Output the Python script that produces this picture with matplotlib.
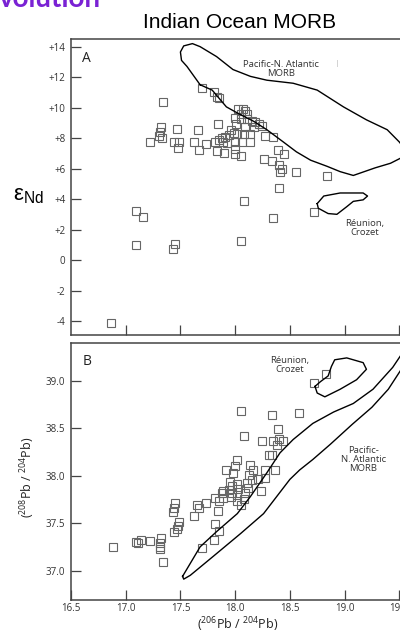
import matplotlib
matplotlib.use("Agg")
import matplotlib.pyplot as plt

plt.rcParams['font.family'] = ['Open Sans', 'DejaVu Sans']
plt.rcParams['mathtext.default'] = 'regular'

# panel A: 206Pb/204Pb vs eNd, Indian Ocean MORB samples
a_pb206 = [17.70, 17.81, 17.83, 17.85, 17.34, 18.03, 18.07, 18.09, 18.05, 18.11,
           18.00, 18.05, 18.11, 18.15, 18.18, 18.22, 17.84, 18.01, 18.09, 18.17,
           18.25, 17.32, 17.47, 17.66, 17.31, 17.30, 17.33, 17.96, 17.99, 18.02,
           18.08, 18.14, 17.94, 17.91, 17.88, 17.85, 18.27, 18.35, 17.22, 17.44,
           17.49, 17.48, 17.62, 17.73, 17.67, 17.82, 17.89, 17.93, 18.00, 18.06,
           18.14, 17.83, 17.90, 18.00, 18.00, 18.05, 18.39, 18.45, 18.26, 18.34,
           18.40, 18.43, 18.41, 18.56, 18.84, 18.40, 18.08, 18.35, 18.72, 18.05,
           17.09, 17.16, 17.09, 17.45, 17.43, 16.87]
a_end = [11.3, 11.0, 10.7, 10.6, 10.35, 9.9, 9.9, 9.8, 9.6, 9.6,
         9.3, 9.25, 9.25, 9.15, 9.05, 8.95, 8.95, 8.9, 8.75, 8.75,
         8.8, 8.7, 8.6, 8.5, 8.4, 8.15, 8.0, 8.5, 8.35, 8.25,
         8.25, 8.25, 8.2, 8.1, 8.0, 7.85, 8.15, 8.05, 7.75, 7.75,
         7.75, 7.35, 7.75, 7.6, 7.2, 7.75, 7.75, 7.65, 7.75, 7.75,
         7.75, 7.15, 7.05, 7.3, 6.95, 6.8, 7.2, 6.95, 6.65, 6.5,
         6.25, 6.0, 5.75, 5.8, 5.5, 4.7, 3.9, 2.75, 3.15, 1.25,
         3.25, 2.8, 1.0, 1.05, 0.75, -4.1]

# field outlines, panel A
a_pac_x = [17.68, 17.65, 17.56, 17.51, 17.50, 17.53, 17.61, 17.68, 17.83, 17.98,
           18.14, 18.29, 18.53, 18.75, 18.99, 19.20, 19.39, 19.50, 19.56, 19.53,
           19.42, 19.28, 19.08, 18.96, 18.84, 18.69, 18.56, 18.44, 18.29, 18.17,
           18.02, 17.92, 17.79, 17.68]
a_pac_y = [11.5, 11.8, 12.7, 13.1, 13.65, 14.05, 14.2, 14.0, 13.35, 12.5,
           12.05, 11.8, 11.6, 11.15, 10.05, 9.2, 8.55, 7.75, 7.2, 6.75,
           6.35, 6.05, 5.55, 5.8, 6.15, 6.55, 7.1, 7.75, 8.55, 9.1,
           9.65, 10.05, 11.15, 11.5]
a_reu_x = [18.75, 18.81, 18.96, 19.17, 19.21, 19.17, 19.08, 19.02, 18.93, 18.85, 18.76, 18.75]
a_reu_y = [3.7, 4.2, 4.4, 4.4, 4.2, 3.95, 3.85, 3.5, 3.0, 3.05, 3.4, 3.7]

# panel B: 206Pb/204Pb vs 208Pb/204Pb
b_pb206 = [18.72, 18.83, 18.05, 18.34, 18.58, 18.39, 18.08, 18.25, 18.35, 18.40,
           18.44, 18.38, 18.34, 18.31, 18.02, 18.00, 17.92, 17.98, 18.14, 18.16,
           18.27, 18.36, 18.13, 18.27, 18.21, 18.15, 18.11, 17.95, 18.02, 17.97,
           18.12, 18.03, 17.94, 17.89, 17.88, 17.97, 18.02, 18.09, 18.24, 17.82,
           17.89, 17.96, 18.02, 18.08, 17.85, 18.05, 17.84, 17.73, 17.65, 17.67,
           17.62, 17.45, 17.44, 17.43, 17.49, 17.48, 17.47, 17.44, 17.82, 17.85,
           17.81, 17.70, 16.88, 17.09, 17.11, 17.14, 17.22, 17.32, 17.31, 17.31,
           17.31, 17.34]
b_pb208 = [38.98, 39.07, 38.68, 38.64, 38.66, 38.49, 38.42, 38.37, 38.37, 38.39,
           38.37, 38.32, 38.22, 38.22, 38.16, 38.10, 38.06, 38.03, 38.11, 38.06,
           38.06, 38.06, 38.01, 37.98, 37.96, 37.95, 37.92, 37.93, 37.91, 37.89,
           37.87, 37.86, 37.85, 37.84, 37.82, 37.82, 37.80, 37.82, 37.84, 37.76,
           37.76, 37.77, 37.73, 37.75, 37.73, 37.69, 37.63, 37.71, 37.69, 37.66,
           37.57, 37.71, 37.66, 37.62, 37.51, 37.47, 37.44, 37.41, 37.49, 37.42,
           37.32, 37.24, 37.25, 37.30, 37.29, 37.32, 37.31, 37.34, 37.29, 37.25,
           37.23, 37.09]

b_pac_x = [17.52, 17.68, 17.83, 18.02, 18.14, 18.29, 18.41, 18.53, 18.71, 18.90,
           19.08, 19.26, 19.44, 19.58, 19.60, 19.53, 19.40, 19.25, 19.07, 18.87,
           18.71, 18.59, 18.50, 18.38, 18.26, 18.05, 17.80, 17.59, 17.53, 17.52]
b_pac_y = [36.94, 37.25, 37.41, 37.60, 37.78, 38.03, 38.24, 38.38, 38.55, 38.67,
           38.76, 38.91, 39.14, 39.38, 39.38, 39.14, 38.91, 38.72, 38.54, 38.33,
           38.17, 38.06, 37.96, 37.78, 37.60, 37.39, 37.15, 36.95, 36.91, 36.94]
b_reu_x = [18.73, 18.75, 18.82, 18.96, 19.11, 19.20, 19.17, 19.02, 18.91, 18.88, 18.85, 18.78, 18.73]
b_reu_y = [38.94, 38.87, 38.83, 38.91, 39.01, 39.12, 39.19, 39.24, 39.22, 39.15, 39.05, 38.99, 38.94]

a_yticks = [-4, -2, 0, 2, 4, 6, 8, 10, 12, 14]
a_ylabels = ['-4', '-2', '0', '+2', '+4', '+6', '+8', '+10', '+12', '+14']
xticks = [17.0, 17.5, 18.0, 18.5, 19.0, 19.5]
b_xlabels = ['16.5', '17.0', '17.5', '18.0', '18.5', '19.0', '19.5']
b_yticks = [37.0, 37.5, 38.0, 38.5, 39.0]

fig = plt.figure(figsize=(4.0, 6.33), dpi=100)

# axes run past the right edge of the canvas, like the cropped slide
axA = fig.add_axes([0.1775, 0.4712, 0.848, 0.4664])
axB = fig.add_axes([0.1775, 0.0521, 0.848, 0.4065])

sq = dict(linestyle='none', marker='s', markersize=6.3, markerfacecolor='none',
          markeredgecolor='#666666', markeredgewidth=0.8)
axA.plot(a_pb206, a_end, **sq)
axA.plot(a_pac_x, a_pac_y, color='black', lw=1.0)
axA.plot(a_reu_x, a_reu_y, color='black', lw=1.0)
axB.plot(b_pb206, b_pb208, **sq)
axB.plot(b_pac_x, b_pac_y, color='black', lw=1.0)
axB.plot(b_reu_x, b_reu_y, color='black', lw=1.0)

for ax in (axA, axB):
    ax.set_xlim(16.5, 19.6)
    for s in ax.spines.values():
        s.set_color('#444444')
        s.set_linewidth(1.1)
    ax.tick_params(direction='in', length=7.5, width=0.9, color='#444444',
                   labelsize=7, labelcolor='#333333', pad=4)

axA.set_ylim(-4.9, 14.47)
axA.set_yticks(a_yticks)
axA.set_yticklabels(a_ylabels)
axA.set_xticks(xticks)
axA.set_xticklabels([])

axB.set_ylim(36.69, 39.40)
axB.set_yticks(b_yticks)
axB.set_yticklabels(['%.1f' % v for v in b_yticks])
axB.set_xticks([16.5] + xticks)
axB.set_xticklabels(b_xlabels)
axB.tick_params(axis='x', pad=2.5)

lab = dict(fontsize=6.8, color='#333333', ha='center', va='center', linespacing=1.0)
axA.text(18.42, 12.52, 'Pacific-N. Atlantic\nMORB', **lab)
axA.text(18.93, 12.92, '|', fontsize=6, color='#bbbbbb', ha='center', va='center')
axA.text(19.18, 2.1, 'Réunion,\nCrozet', **lab)
axA.text(16.64, 13.2, 'A', fontsize=10, color='#222222', ha='center', va='center')

axB.text(18.50, 39.17, 'Réunion,\nCrozet', **lab)
axB.text(19.17, 38.17, 'Pacific-\nN. Atlantic\nMORB', **lab)
axB.text(16.65, 39.2, 'B', fontsize=10, color='#222222', ha='center', va='center')

fig.text(240 / 400, 1 - 23 / 633, 'Indian Ocean MORB', fontsize=15,
         family='Liberation Sans', ha='center', va='center')
fig.text(-0.004, 1 - 7 / 633, 'volution', fontsize=20, fontweight='bold',
         family='Lato', color='#7a22d4', ha='left', va='baseline')
fig.text(28 / 400, 1 - 196 / 633, 'ε$_{Nd}$', fontsize=16,
         family='Liberation Sans', ha='center', va='center')
fig.text(28 / 400, 1 - 477 / 633, '($^{208}$Pb / $^{204}$Pb)', fontsize=9,
         color='#222222', rotation=90, ha='center', va='center')
fig.text(238 / 400, 1 - 625 / 633, '($^{206}$Pb / $^{204}$Pb)', fontsize=9,
         color='#222222', ha='center', va='center')

fig.savefig('out.png', dpi=100)
